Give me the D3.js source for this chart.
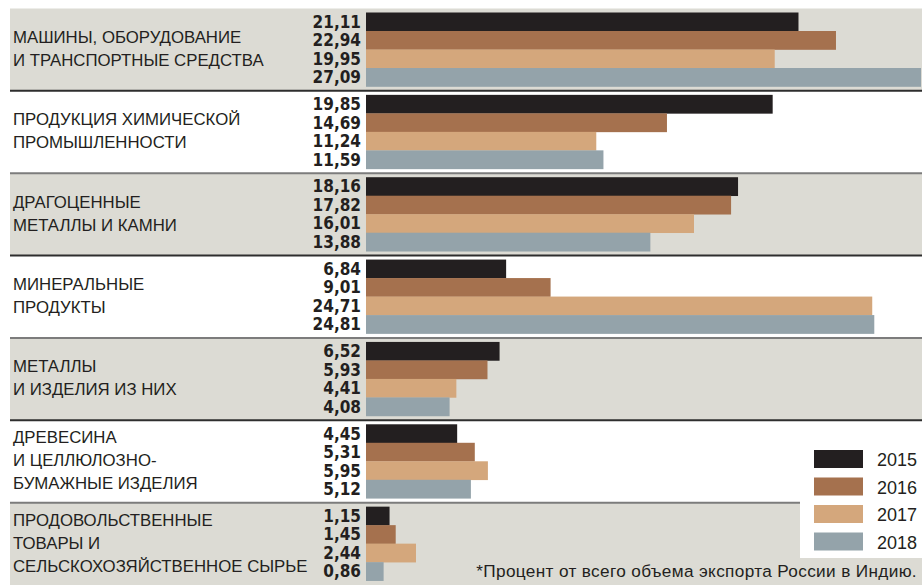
<!DOCTYPE html>
<html>
<head>
<meta charset="utf-8">
<script src="https://cdn.jsdelivr.net/npm/d3@7"></script>
<style>
  body { margin: 0; background: #fff; }
  svg { display: block; }
</style>
</head>
<body>
<div id="chart"></div>
<script>
// DATA
const categories = [
  ['МАШИНЫ, ОБОРУДОВАНИЕ', 'И ТРАНСПОРТНЫЕ СРЕДСТВА'],
  ['ПРОДУКЦИЯ ХИМИЧЕСКОЙ', 'ПРОМЫШЛЕННОСТИ'],
  ['ДРАГОЦЕННЫЕ', 'МЕТАЛЛЫ И КАМНИ'],
  ['МИНЕРАЛЬНЫЕ', 'ПРОДУКТЫ'],
  ['МЕТАЛЛЫ', 'И ИЗДЕЛИЯ ИЗ НИХ'],
  ['ДРЕВЕСИНА', 'И ЦЕЛЛЮЛОЗНО-', 'БУМАЖНЫЕ ИЗДЕЛИЯ'],
  ['ПРОДОВОЛЬСТВЕННЫЕ', 'ТОВАРЫ И', 'СЕЛЬСКОХОЗЯЙСТВЕННОЕ СЫРЬЕ']
];
const years = ['2015', '2016', '2017', '2018'];
const values2015 = [21.11, 19.85, 18.16, 6.84, 6.52, 4.45, 1.15];
const values2016 = [22.94, 14.69, 17.82, 9.01, 5.93, 5.31, 1.45];
const values2017 = [19.95, 11.24, 16.01, 24.71, 4.41, 5.95, 2.44];
const values2018 = [27.09, 11.59, 13.88, 24.81, 4.08, 5.12, 0.86];
const footnote = '*Процент от всего объема экспорта России в Индию.';

const series = [values2015, values2016, values2017, values2018];
const colors = ['#231f20', '#a5714e', '#d4a77c', '#94a3aa'];

const width = 922;
const height = 585;

const svg = d3.select('#chart')
  .append('svg')
  .attr('width', width)
  .attr('height', height);

const catIdx = d3.range(categories.length);

// SCALES
const yBand = d3.scaleBand()
  .domain(catIdx)
  .range([8.5, 585]);

const yInner = d3.scaleBand()
  .domain(years)
  .range([4, 78]);

const xScale = d3.scaleLinear()
  .domain([0, 27.09])
  .range([366, 921]);

// BANDS
svg.append('g')
  .selectAll('rect')
  .data(catIdx)
  .enter()
  .append('rect')
  .attr('x', 10)
  .attr('y', d => yBand(d))
  .attr('width', width - 10)
  .attr('height', yBand.bandwidth() + 1)
  .attr('fill', d => d % 2 === 0 ? '#dcdbd4' : '#ffffff');

// SEPARATORS
svg.append('g')
  .selectAll('line')
  .data(catIdx.slice(1))
  .enter()
  .append('line')
  .attr('x1', 10)
  .attr('x2', width)
  .attr('y1', d => yBand(d))
  .attr('y2', d => yBand(d))
  .attr('stroke', d => d % 2 === 1 ? '#2e2e2e' : '#7c7c7c')
  .attr('stroke-width', 2);

// BARS + VALUES
const rows = [];
catIdx.forEach(c => {
  years.forEach((y, i) => {
    rows.push({ cat: c, year: y, idx: i, value: series[i][c] });
  });
});

const barG = svg.append('g');

barG.selectAll('rect')
  .data(rows)
  .enter()
  .append('rect')
  .attr('x', xScale(0))
  .attr('y', d => yBand(d.cat) + yInner(d.year))
  .attr('width', d => xScale(d.value) - xScale(0))
  .attr('height', yInner.bandwidth() + 0.3)
  .attr('fill', d => colors[d.idx]);

barG.selectAll('text')
  .data(rows)
  .enter()
  .append('text')
  .attr('x', 361)
  .attr('y', d => yBand(d.cat) + yInner(d.year) + yInner.bandwidth() / 2 + 6)
  .attr('text-anchor', 'end')
  .style('font-family', '"DejaVu Sans Condensed", "DejaVu Sans", sans-serif')
  .style('font-stretch', 'condensed')
  .style('font-weight', 'bold')
  .style('font-size', '17px')
  .attr('fill', '#231f20')
  .text(d => d3.format('.2f')(d.value).replace('.', ','));

// CATEGORY LABELS
const lineH = 23;
const labelG = svg.append('g');
catIdx.forEach(c => {
  const lines = categories[c];
  const mid = yBand(c) + 4 + 37;
  labelG.append('text')
    .attr('x', 13)
    .style('font-family', '"Liberation Sans", Arial, sans-serif')
    .style('font-size', '16.8px')
    .attr('fill', '#231f20')
    .selectAll('tspan')
    .data(lines)
    .enter()
    .append('tspan')
    .attr('x', 13)
    .attr('y', (d, i) => mid + (i - (lines.length - 1) / 2) * lineH + 5)
    .text(d => d);
});

// LEGEND
svg.append('rect')
  .attr('x', 800)
  .attr('y', 438)
  .attr('width', width - 800)
  .attr('height', 120)
  .attr('fill', '#ffffff');

const legend = svg.append('g')
  .selectAll('g')
  .data(years)
  .enter()
  .append('g')
  .attr('transform', (d, i) => 'translate(814,' + (450 + i * 27.5) + ')');

legend.append('rect')
  .attr('width', 49)
  .attr('height', 18)
  .attr('fill', (d, i) => colors[i]);

legend.append('text')
  .attr('x', 63)
  .attr('y', 16)
  .style('font-family', '"Liberation Sans", Arial, sans-serif')
  .style('font-size', '18px')
  .attr('fill', '#231f20')
  .text(d => d);

// FOOTNOTE
svg.append('text')
  .attr('x', 917)
  .attr('y', 577)
  .attr('text-anchor', 'end')
  .style('font-family', '"Liberation Sans", Arial, sans-serif')
  .style('font-size', '17.2px')
  .style('letter-spacing', '0.35px')
  .attr('fill', '#231f20')
  .text(footnote);
</script>
</body>
</html>
